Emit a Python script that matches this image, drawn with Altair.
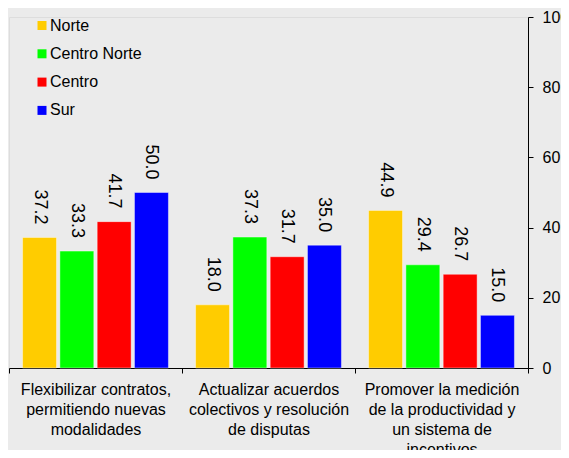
import altair as alt
import pandas as pd

# categories (lines of each x label) and series values
cat_lines = [
    ["Flexibilizar contratos,", "permitiendo nuevas", "modalidades"],
    ["Actualizar acuerdos", "colectivos y resolución", "de disputas"],
    ["Promover la medición", "de la productividad y", "un sistema de", "incentivos"],
]
regions = ["Norte", "Centro Norte", "Centro", "Sur"]
colors = ["#ffcc00", "#00ff00", "#ff0000", "#0000ff"]

norte = [37.2, 18.0, 44.9]
centro_norte = [33.3, 37.3, 29.4]
centro = [41.7, 31.7, 26.7]
sur = [50.0, 35.0, 15.0]

y_ticks = [0, 20, 40, 60, 80, 100]

categories = ["|".join(lines) for lines in cat_lines]
series = {"Norte": norte, "Centro Norte": centro_norte, "Centro": centro, "Sur": sur}

rows = []
for region in regions:
    for cat, v in zip(categories, series[region]):
        rows.append({"categoria": cat, "region": region, "valor": v})
df = pd.DataFrame(rows)

font = "Liberation Sans"

x_enc = alt.X(
    "categoria:N",
    sort=categories,
    scale=alt.Scale(paddingInner=0, paddingOuter=0),
    axis=alt.Axis(
        title=None,
        tickBand="extent",
        labelAngle=0,
        labelExpr="isValid(datum.value) ? split(datum.value, '|') : ''",
        labelFontSize=16,
        labelLineHeight=20,
        labelPadding=8,
        labelLimit=300,
        tickSize=5,
        labelColor="black",
        domainColor="black",
        tickColor="black",
    ),
)
xoff_enc = alt.XOffset(
    "region:N",
    sort=regions,
    scale=alt.Scale(paddingInner=0.09, paddingOuter=0.364),
)
y_enc = alt.Y(
    "valor:Q",
    scale=alt.Scale(domain=[0, 100], nice=False),
    axis=alt.Axis(
        title=None,
        orient="right",
        values=y_ticks,
        grid=False,
        tickSize=5,
        labelPadding=9,
        labelFontSize=16,
        labelColor="black",
        domainColor="black",
        tickColor="black",
    ),
)

bars = alt.Chart(df).mark_bar(
    stroke="#ffffff", strokeWidth=0.7, strokeOpacity=0.6
).encode(
    x=x_enc,
    xOffset=xoff_enc,
    y=y_enc,
    color=alt.Color(
        "region:N",
        sort=regions,
        scale=alt.Scale(domain=regions, range=colors),
        legend=alt.Legend(
            title=None,
            orient="none",
            legendX=24,
            legendY=0.5,
            padding=0,
            symbolType="square",
            symbolSize=81,
            symbolStrokeWidth=0,
            symbolOffset=1,
            labelFontSize=16,
            labelOffset=0,
            rowPadding=12.3,
            labelColor="black",
        ),
    ),
)

labels = alt.Chart(df).mark_text(
    angle=90, align="right", baseline="middle", dx=-13, fontSize=18, color="black"
).encode(
    x=alt.X("categoria:N", sort=categories),
    xOffset=alt.XOffset("region:N", sort=regions),
    y=alt.Y("valor:Q"),
    text=alt.Text("valor:Q", format=".1f"),
)

# svg must stay within 553x442 so the page does not scroll
chart = (bars + labels).properties(
    width=519,
    height=351,
    autosize=alt.AutoSizeParams(type="none"),
    padding={"left": 1, "top": 9, "right": 33, "bottom": 82},
    background="#ebebeb",
    title=alt.TitleParams(
        "Por ciento",
        fontSize=19,
        fontWeight="normal",
        color="black",
        anchor="middle",
        frame="group",
        baseline="alphabetic",
        offset=-10,
        dx=21,
    ),
).configure_view(
    strokeWidth=0
).configure(
    font=font
)

chart.save("out.html", embed_options={"renderer": "svg", "actions": False})
